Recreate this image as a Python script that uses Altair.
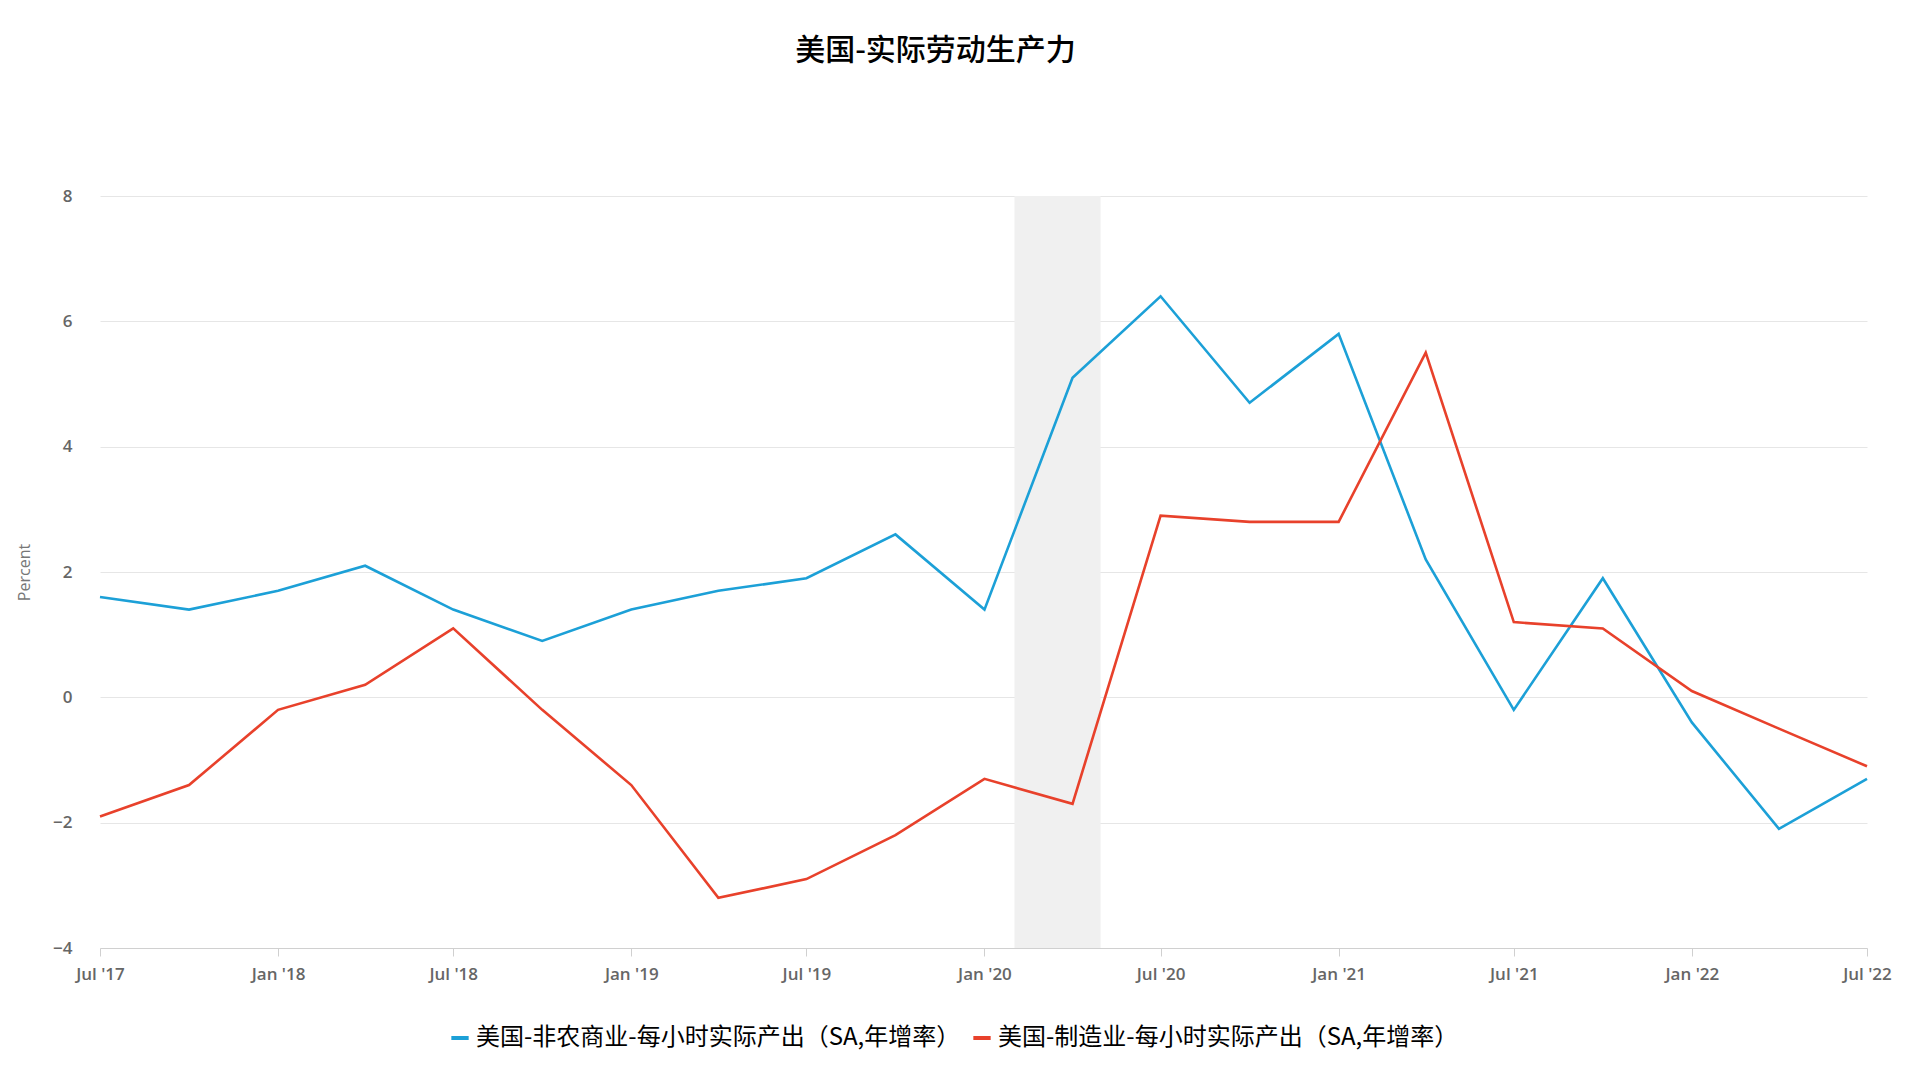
import altair as alt
import pandas as pd

dates = ["2017-07-01", "2017-10-01", "2018-01-01", "2018-04-01", "2018-07-01",
         "2018-10-01", "2019-01-01", "2019-04-01", "2019-07-01", "2019-10-01",
         "2020-01-01", "2020-04-01", "2020-07-01", "2020-10-01", "2021-01-01",
         "2021-04-01", "2021-07-01", "2021-10-01", "2022-01-01", "2022-04-01",
         "2022-07-01"]
nonfarm = [1.6, 1.4, 1.7, 2.1, 1.4, 0.9, 1.4, 1.7, 1.9, 2.6, 1.4, 5.1, 6.4, 4.7,
           5.8, 2.2, -0.2, 1.9, -0.4, -2.1, -1.3]
manuf = [-1.9, -1.4, -0.2, 0.2, 1.1, -0.2, -1.4, -3.2, -2.9, -2.2, -1.3, -1.7,
         2.9, 2.8, 2.8, 5.5, 1.2, 1.1, 0.1, -0.5, -1.1]
series_names = ["美国-非农商业-每小时实际产出（SA,年增率）",
                "美国-制造业-每小时实际产出（SA,年增率）"]
series_colors = ["#1CA0D7", "#E8412B"]
recession_start = ["2020-02-01"]
recession_end = ["2020-04-30"]
tick_dates = ["2017-07-01", "2018-01-01", "2018-07-01", "2019-01-01", "2019-07-01",
              "2020-01-01", "2020-07-01", "2021-01-01", "2021-07-01", "2022-01-01",
              "2022-07-01"]

rows = []
for d, a, b in zip(dates, nonfarm, manuf):
    rows.append({"date": d, "series": series_names[0], "value": a})
    rows.append({"date": d, "series": series_names[1], "value": b})
df = pd.DataFrame(rows)
rec = pd.DataFrame({"start": recession_start, "end": recession_end})

FONT = "Noto Sans CJK SC"

x_scale = alt.Scale(domain=[pd.Timestamp("2017-07-01").timestamp() * 1000,
                            pd.Timestamp("2022-07-01").timestamp() * 1000])
tick_vals = [pd.Timestamp(t).timestamp() * 1000 for t in tick_dates]

x_axis = alt.Axis(
    values=tick_vals,
    labelExpr="(month(datum.value)==0 ? 'Jan' : 'Jul') + \" '\" + timeFormat(datum.value, '%y')",
    grid=False, domain=True, domainColor="#d0d0d0", ticks=True,
    tickColor="#d0d0d0", tickSize=8, labelColor="#666666", labelFontSize=17,
    labelFont="Open Sans", labelFontWeight=600, labelPadding=10, title=None,
    labelFlush=False,
)
y_axis = alt.Axis(
    values=[-4, -2, 0, 2, 4, 6, 8], grid=True, gridColor="#e6e6e6", domain=False,
    ticks=False, labelColor="#666666", labelFontSize=17, labelFont="Open Sans",
    labelFontWeight=600, labelPadding=28, title="Percent", titleColor="#777777",
    titleFontSize=16, titleFont="Open Sans", titleFontWeight="normal", titlePadding=20,
)

band = alt.Chart(rec).mark_rect(color="#f0f0f0").encode(
    x=alt.X("start:T", scale=x_scale, axis=x_axis),
    x2="end:T",
)

lines = alt.Chart(df).mark_line(strokeWidth=2.6).encode(
    x=alt.X("date:T", scale=x_scale, axis=x_axis),
    y=alt.Y("value:Q", scale=alt.Scale(domain=[-4, 8], nice=False), axis=y_axis),
    color=alt.Color(
        "series:N",
        scale=alt.Scale(domain=series_names, range=series_colors),
        legend=alt.Legend(
            orient="none", legendX=348, legendY=830, direction="horizontal",
            title=None, symbolType="stroke", symbolStrokeWidth=4, symbolSize=300,
            labelFont=FONT, labelFontSize=24, labelColor="#000000",
            columnPadding=4, labelLimit=700,
        ),
    ),
)

chart = alt.layer(band, lines).properties(
    width=1767, height=752,
    padding={"left": 100, "top": 196, "right": 53, "bottom": 135},
    autosize="none",
    background="white",
    title=alt.TitleParams(
        "美国-实际劳动生产力", font=FONT, fontSize=30, fontWeight=500,
        color="#000000", offset=121, dx=-48, anchor="middle",
    ),
).configure_view(stroke="transparent", strokeWidth=0)

chart.save("out.html", embed_options={"renderer": "svg", "actions": False})
